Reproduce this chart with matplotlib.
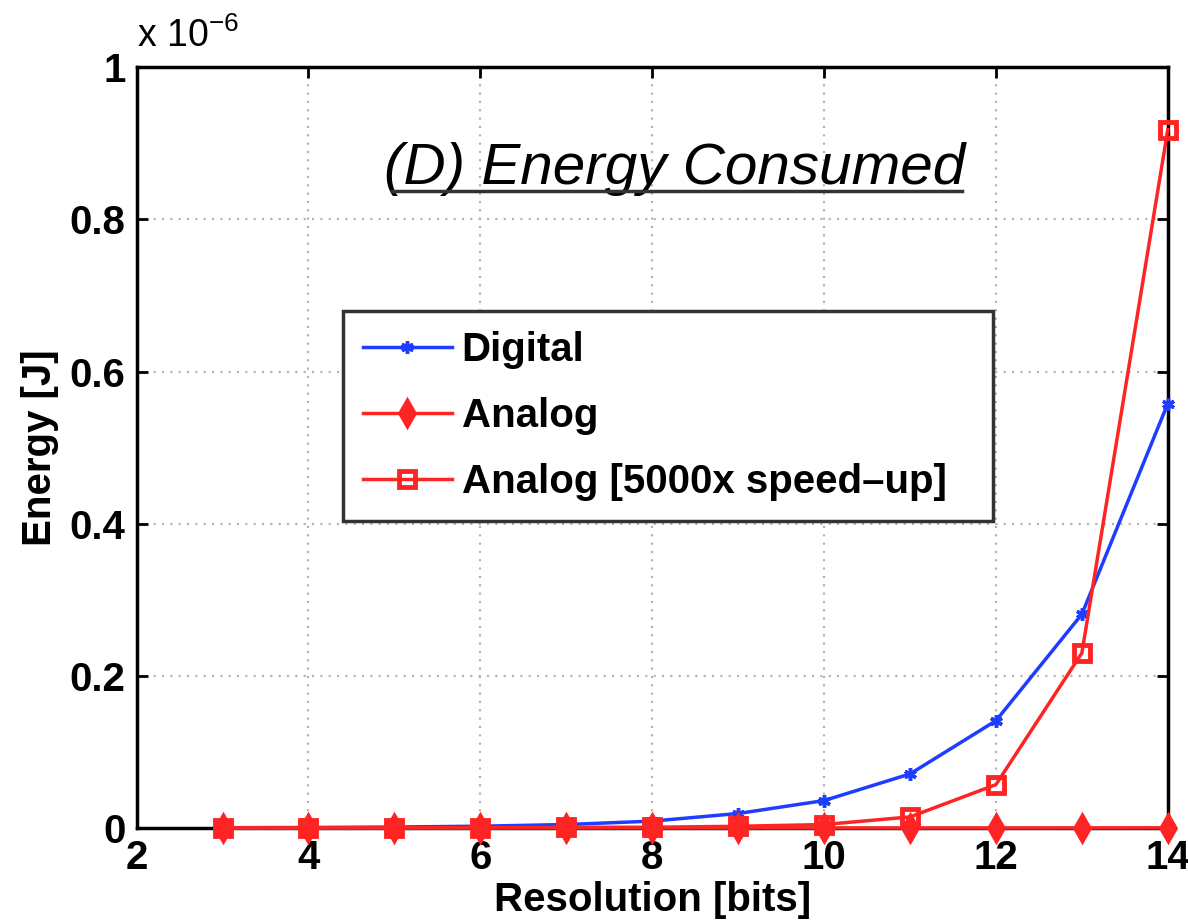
import numpy as np
import matplotlib
matplotlib.use("Agg")
import matplotlib.pyplot as plt
from matplotlib.ticker import FuncFormatter, MultipleLocator
from matplotlib.lines import Line2D

plt.rcParams["font.family"] = ["Liberation Sans", "DejaVu Sans"]

# ── data (energy in J) ───────────────────────────────────────
resolution = [3, 4, 5, 6, 7, 8, 9, 10, 11, 12, 13, 14]
digital = [0.0003e-6, 0.0006e-6, 0.0012e-6, 0.0023e-6, 0.0045e-6, 0.009e-6,
           0.019e-6, 0.036e-6, 0.071e-6, 0.141e-6, 0.281e-6, 0.558e-6]
analog_speedup = [0.0000e-6, 0.0001e-6, 0.0002e-6, 0.0004e-6, 0.0009e-6, 0.0009e-6,
                  0.0022e-6, 0.0045e-6, 0.0145e-6, 0.057e-6, 0.230e-6, 0.918e-6]
analog = [v / 5000 for v in analog_speedup]

labels = ["Digital", "Analog", "Analog [5000x speed\u2013up]"]
blue = "#1f3dff"
red = "#ff2424"

fig = plt.figure(figsize=(11.88, 9.22), dpi=100)
ax = fig.add_axes([0.115, 0.102, 0.868, 0.825])

ax.plot(resolution, digital, color=blue, lw=2.5, marker=(6, 2, 0), ms=9, mew=2.5,
        label=labels[0], clip_on=False, zorder=3)
ax.plot(resolution, analog, color=red, lw=2.5, marker="d", ms=14, mfc=red, mew=2,
        label=labels[1], clip_on=False, zorder=3)
ax.plot(resolution, analog_speedup, color=red, lw=2.5, marker="s", ms=11, mfc="none", mew=3.5,
        label=labels[2], clip_on=False, zorder=3)

ax.set_xlim(2, 14)
ax.set_ylim(0, 1e-6)
ax.xaxis.set_major_locator(MultipleLocator(2))
ax.yaxis.set_major_locator(MultipleLocator(0.2e-6))
ax.yaxis.set_major_formatter(FuncFormatter(lambda v, p: f"{v * 1e6:g}"))

ax.grid(True, linestyle=(0, (1, 3)), color="#b0b0b0", lw=1.5)
ax.tick_params(direction="in", top=True, right=True, length=8, width=2,
               labelsize=29, pad=8)
for lab in ax.get_xticklabels() + ax.get_yticklabels():
    lab.set_fontweight("bold")
for sp in ax.spines.values():
    sp.set_linewidth(2.5)
    sp.set_color("black")

ax.set_xlabel("Resolution [bits]", fontsize=29, fontweight="bold", labelpad=3)
ax.set_ylabel("Energy [J]", fontsize=29, fontweight="bold", labelpad=8)
ax.text(0.0, 1.016, r"x 10$^{\mathregular{-6}}$", transform=ax.transAxes, fontsize=27,
        ha="left", va="bottom")

leg = ax.legend(loc="upper left", bbox_to_anchor=(0.2, 0.407, 0.63, 0.273),
                mode="expand", prop={"weight": "bold", "size": 29},
                fancybox=False, framealpha=1, edgecolor="#333333",
                handlelength=2.2, handletextpad=0.25, borderpad=0.5,
                labelspacing=0.7, borderaxespad=0)
leg.get_frame().set_linewidth(2.5)

title = ax.text(0.522, 0.866, "(D) Energy Consumed", transform=ax.transAxes,
                fontsize=42, fontstyle="italic", ha="center", va="center")

# underline the in-axes title
fig.canvas.draw()
bb = title.get_window_extent()
y_line = bb.y0 + 0.09 * bb.height
fig.add_artist(Line2D([bb.x0 + 8, bb.x1 - 4], [y_line, y_line], color="#333333",
                      lw=2.5, transform=None))

fig.savefig("out.png", dpi=100)
